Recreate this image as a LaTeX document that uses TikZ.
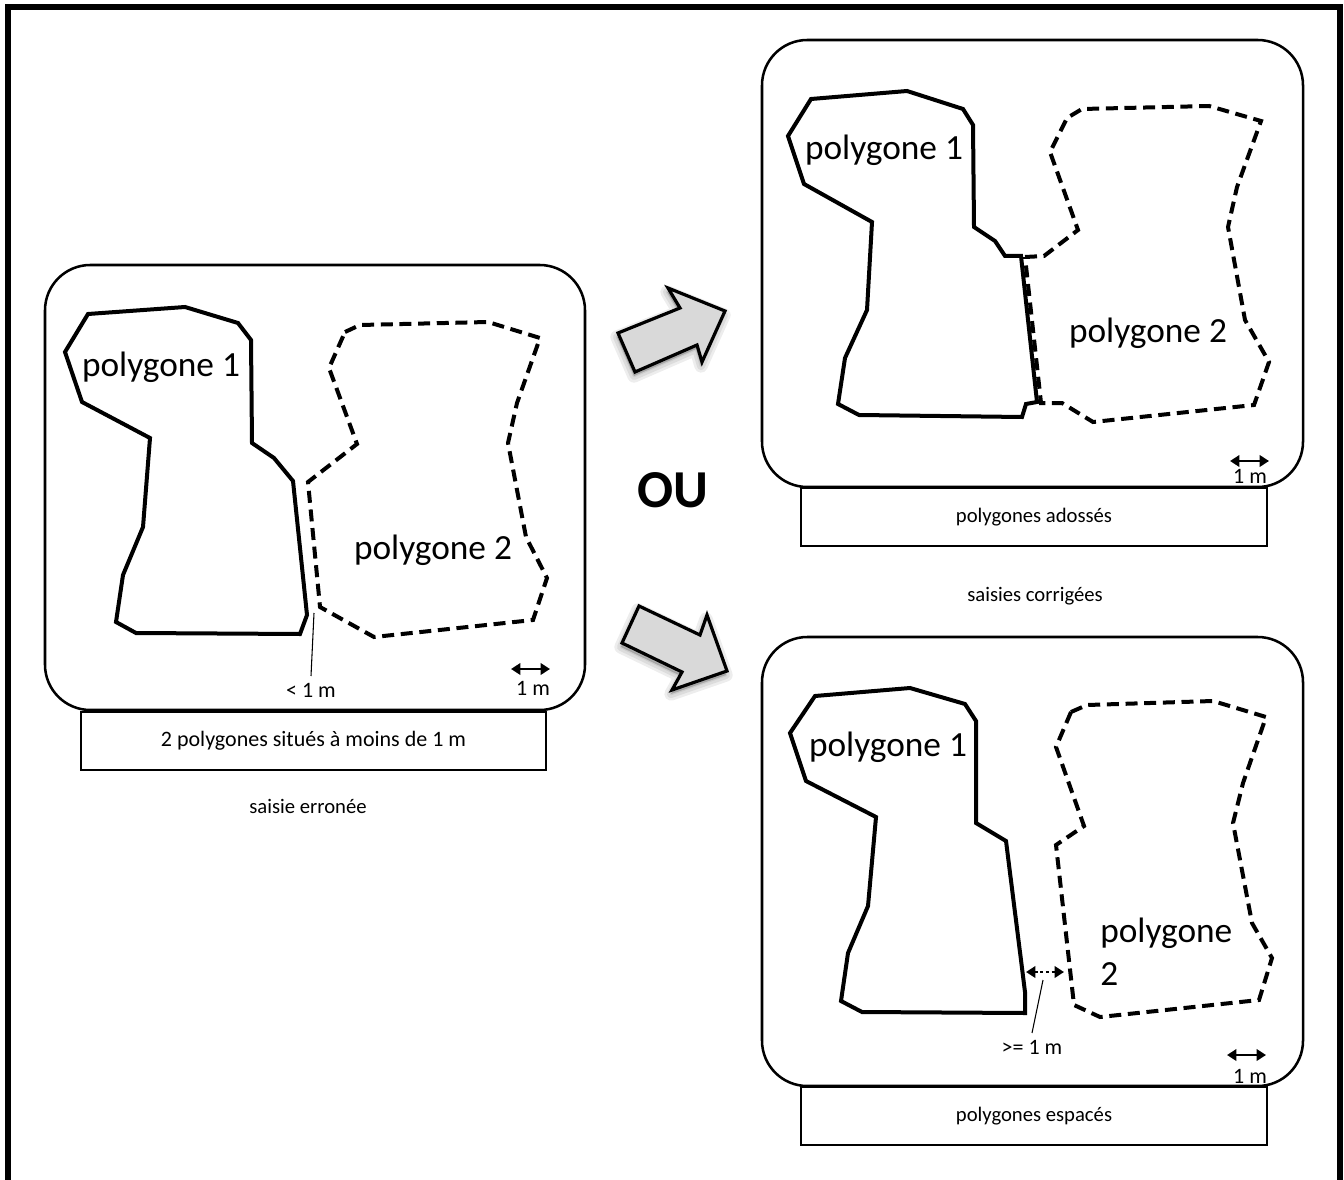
\documentclass[tikz,border=0pt]{standalone}
\usepackage{fontspec}
\setmainfont{Carlito}
\usetikzlibrary{arrows.meta}
\newcommand\biglbl{\fontsize{26.5}{32}\selectfont}
\newcommand\captxt{\fontsize{15.5}{18}\selectfont}
\newcommand\smalltxt{\fontsize{16.5}{19}\selectfont}
\newcommand\outxt{\fontsize{40}{48}\selectfont\bfseries}
\newcommand\uparrowpath{(635,372) -- (618,333) -- (680,308) -- (668,288) -- (725,311) -- (702,362) -- (697,345) -- cycle}
\newcommand\downarrowpath{(622,643) -- (639,606) -- (700,635) -- (707,615) -- (727,671) -- (672,690) -- (682,672) -- cycle}
\tikzset{
  panel/.style={draw, line width=1.9pt, rounded corners=34pt},
  capbox/.style={draw, line width=1.6pt, fill=white, minimum width=349pt, minimum height=44pt, font=\captxt},
  solidpoly/.style={line width=3pt},
  dashpoly/.style={line width=3pt, dash pattern=on 9pt off 5pt},
  polylbl/.style={font=\biglbl, inner sep=0pt},
  smalllbl/.style={font=\smalltxt, inner sep=0pt},
  caplbl/.style={font=\captxt, inner sep=0pt},
  leader/.style={line width=0.8pt},
  tips/.style={{Triangle[length=7pt,width=8.5pt]}-{Triangle[length=7pt,width=8.5pt]}},
  scalebar/.style={line width=2.2pt, tips},
  bigarrow/.style={draw, line width=2.4pt, line join=miter, fill=black!15},
  arrowshade/.style={draw=black, fill=black, line join=round, opacity=0.07, shift={(-1,4)}}
}
\begin{document}
\begin{tikzpicture}[x=0.75pt, y=-0.75pt]
  \useasboundingbox (0,0) rectangle (1344,1180);
  \draw[line width=4.5pt] (8,1180) -- (8,7) -- (1340,7) -- (1340,1180);

  % saisie erronee
  \draw[panel] (45,265) rectangle (585,710);
  \draw[solidpoly] (88,314) -- (185,307) -- (238,323) -- (251,340) -- (252,443) -- (274,458) -- (293,481)
    -- (307,615) -- (300,634) -- (136,633) -- (116,622) -- (123,575) -- (143,527) -- (150,438)
    -- (82,402) -- (65,352) -- cycle;
  \draw[dashpoly] (345,332) -- (360,325) -- (488,322) -- (540,338) -- (517,403) -- (508,443) -- (526,537)
    -- (547,578) -- (533,620) -- (374,637) -- (320,607) -- (308,482) -- (357,444) -- (329,368) -- cycle;
  \node[polylbl] (p1a) at (161,367) {polygone 1};
  \node[polylbl] (p2a) at (433,550) {polygone 2};
  \coordinate (gapa) at (314,613);
  \node[smalllbl] (lessa) at (311,690) {< 1 m};
  \draw[leader] (gapa) -- ([yshift=5pt]lessa.north);
  \coordinate (sa1) at (511,669);
  \coordinate (sa2) at (550,669);
  \draw[scalebar] (sa1) -- (sa2);
  \node[smalllbl] (ma) at (533,688) {1 m};
  \node[capbox, font=\smalltxt] (capa) at (313.5,741) {2 polygones situés à moins de 1 m};
  \node[caplbl] (erreur) at (308,806) {saisie erronée};

  % fleches
  \foreach \w in {10,6,2}
    \filldraw[arrowshade, line width=\w pt] \uparrowpath;
  \foreach \w in {10,6,2}
    \filldraw[arrowshade, line width=\w pt] \downarrowpath;
  \filldraw[bigarrow] \uparrowpath;
  \filldraw[bigarrow] \downarrowpath;
  \node[font=\outxt] (ou) at (673,490) {OU};

  % polygones adosses
  \draw[panel] (762,40) rectangle (1303,487);
  \draw[solidpoly] (811,99) -- (907,91) -- (963,109) -- (973,125) -- (974,227) -- (995,241) -- (1005,256)
    -- (1021,256) -- (1037,402) -- (1026,404) -- (1022,417) -- (859,415) -- (838,404) -- (845,358)
    -- (867,310) -- (872,222) -- (804,184) -- (788,136) -- cycle;
  \draw[dashpoly] (1025,257) -- (1044,256) -- (1078,230) -- (1050,152) -- (1067,118) -- (1082,109) -- (1209,106)
    -- (1261,121) -- (1237,187) -- (1228,227) -- (1245,320) -- (1269,362) -- (1254,405) -- (1093,422)
    -- (1062,403) -- (1041,403) -- cycle;
  \node[polylbl] (p1b) at (884,150) {polygone 1};
  \node[polylbl] (p2b) at (1148,333) {polygone 2};
  \coordinate (sb1) at (1230,461);
  \coordinate (sb2) at (1269,461);
  \draw[scalebar] (sb1) -- (sb2);
  \node[smalllbl] (mb) at (1250,476) {1 m};
  \node[capbox] (capb) at (1034,517) {polygones adossés};
  \node[caplbl] (corrige) at (1035,596) {saisies corrigées};

  % polygones espaces
  \draw[panel] (762,637) rectangle (1303,1086);
  \draw[solidpoly] (815,696) -- (910,688) -- (965,704) -- (976,721) -- (976,823) -- (1006,841) -- (1025,992)
    -- (1025,1013) -- (862,1012) -- (841,1001) -- (848,953) -- (868,906) -- (876,817) -- (806,781)
    -- (790,733) -- cycle;
  \draw[dashpoly] (1071,712) -- (1087,705) -- (1213,701) -- (1266,717) -- (1243,783) -- (1233,823) -- (1252,923)
    -- (1272,958) -- (1259,1000) -- (1100,1017) -- (1074,1005) -- (1056,845) -- (1084,826) -- (1056,747) -- cycle;
  \node[polylbl] (p1c) at (888,747) {polygone 1};
  \node[polylbl, align=left, anchor=west] (p2c) at (1100,952) {polygone\\2};
  \coordinate (gc1) at (1026,972);
  \coordinate (gc2) at (1064,972);
  \draw[line width=2.2pt, dotted, tips] (gc1) -- (gc2);
  \coordinate (gapc) at (1043,980);
  \node[smalllbl] (morec) at (1032,1047) {>= 1 m};
  \draw[leader] (gapc) -- ([yshift=5pt]morec.north);
  \coordinate (sc1) at (1227,1055);
  \coordinate (sc2) at (1266,1055);
  \draw[scalebar] (sc1) -- (sc2);
  \node[smalllbl] (mc) at (1250,1076) {1 m};
  \node[capbox] (capc) at (1034,1116) {polygones espacés};
\end{tikzpicture}
\end{document}
